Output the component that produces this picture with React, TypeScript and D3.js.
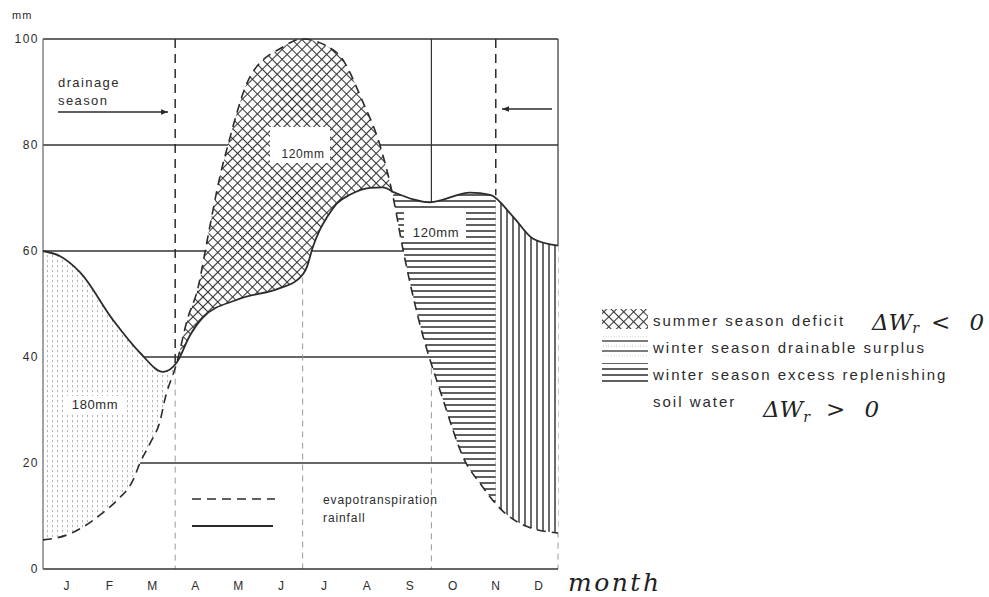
import * as d3 from "d3";

// month initials along the bottom
const months = ["J", "F", "M", "A", "M", "J", "J", "A", "S", "O", "N", "D"];
const yTicks = [0, 20, 40, 60, 80, 100];

// [month position (0 = start of Jan, 12 = end of Dec), mm]
const evapotranspiration: [number, number][] = [
  [0, 5.5], [0.55, 6.4], [0.93, 7.9], [1.33, 10.2], [1.73, 13], [2.1, 16.8],
  [2.26, 20], [2.5, 23.8], [2.73, 28], [2.84, 32], [3.12, 39], [3.36, 47],
  [3.61, 53], [3.84, 62.6], [4.12, 74], [4.31, 80], [4.82, 92.8], [5.59, 98.5],
  [6.03, 100], [6.85, 97.4], [7.46, 88], [7.85, 80], [8.15, 70.5], [8.39, 60.2],
  [8.74, 47.5], [9.32, 32], [9.83, 20.4], [10.18, 16.2], [10.69, 11.1],
  [11.28, 8], [12, 6.8],
];

const rainfall: [number, number][] = [
  [0, 60], [0.4, 59], [0.86, 56], [1.63, 47], [2.26, 40.8], [2.8, 37.2],
  [3.12, 39], [3.42, 44], [3.73, 47.5], [4.52, 50.8], [5.52, 53], [5.92, 54.5],
  [6.15, 57], [6.29, 60.8], [6.45, 64], [6.62, 66.4], [6.85, 69], [7.15, 70.6],
  [7.62, 71.9], [7.92, 72], [8.2, 71], [9.02, 69.2], [9.95, 71], [10.42, 70.6],
  [10.95, 66.5], [11.42, 62.3], [12, 61],
];

// shaded seasons between the two curves
const seasons = [
  { from: 0, to: 3.11, fill: "dots" },
  { from: 3.11, to: 8.17, fill: "cross" },
  { from: 8.17, to: 10.55, fill: "hlines" },
  { from: 10.55, to: 12, fill: "vlines" },
];

const legendItems = [
  { fill: "cross", lines: ["summer season deficit"] },
  { fill: "sparse", lines: ["winter season drainable surplus"] },
  { fill: "hlines", lines: ["winter season excess replenishing", "soil water"] },
];

const W = 989;
const H = 597;
const FONT = "'Liberation Sans', Arial, sans-serif";
const HAND = "'DejaVu Serif', 'Liberation Serif', serif";
const INK = "#2b2b2b";

export default function App() {
  const x = d3.scaleLinear().domain([0, 12]).range([43, 558]);
  const y = d3.scaleLinear().domain([0, 100]).range([569, 39]);

  const line = d3.line<[number, number]>()
    .x(d => x(d[0]))
    .y(d => y(d[1]))
    .curve(d3.curveMonotoneX);

  const etPath = line(evapotranspiration) || "";
  const rainPath = line(rainfall) || "";
  const rainBack = (line(rainfall.slice().reverse()) || "").replace(/^M/, "L");
  const between = etPath + rainBack + "Z";

  return (
    <svg width={W} height={H} style={{ position: "absolute", left: 0, top: 0, background: "#fff" }}>
      <defs>
        <pattern id="cross" width={7} height={7} patternUnits="userSpaceOnUse" patternTransform="rotate(45)">
          <rect width={7} height={7} fill="#fff" />
          <path d="M0,3.5H7M3.5,0V7" stroke="#333" strokeWidth={1.1} />
        </pattern>
        <pattern id="dots" width={5} height={5} patternUnits="userSpaceOnUse">
          <rect width={5} height={5} fill="#fff" />
          <path d="M2.5,0V2.2" stroke="#aaa" strokeWidth={0.9} />
        </pattern>
        <pattern id="hlines" width={8} height={6} patternUnits="userSpaceOnUse">
          <rect width={8} height={6} fill="#fff" />
          <path d="M0,3H8" stroke="#2a2a2a" strokeWidth={1.5} />
        </pattern>
        <pattern id="vlines" width={6} height={8} patternUnits="userSpaceOnUse">
          <rect width={6} height={8} fill="#fff" />
          <path d="M3,0V8" stroke="#2a2a2a" strokeWidth={1.4} />
        </pattern>
        <pattern id="sparse" width={8} height={10} patternUnits="userSpaceOnUse">
          <rect width={8} height={10} fill="#fff" />
          <path d="M0,1H8" stroke="#333" strokeWidth={1.3} />
          <path d="M0,6H8" stroke="#aaa" strokeWidth={0.8} strokeDasharray="1,2" />
        </pattern>
        {seasons.map((s, i) => (
          <clipPath id={`season-${i}`} key={i}>
            <rect x={x(s.from)} y={0} width={x(s.to) - x(s.from)} height={H} />
          </clipPath>
        ))}
        <marker id="arrow" viewBox="0 0 10 10" refX={10} refY={5} markerWidth={9} markerHeight={7} orient="auto" markerUnits="userSpaceOnUse">
          <path d="M0,1L10,5L0,9Z" fill={INK} />
        </marker>
      </defs>

      {/* grid */}
      {yTicks.filter(t => t > 0 && t < 100).map(t => (
        <line key={t} x1={x(0)} x2={x(12)} y1={y(t)} y2={y(t)} stroke="#333" strokeWidth={1.3} />
      ))}

      {/* faint verticals */}
      <g stroke="#999" strokeWidth={1} strokeDasharray="6,5">
        <line x1={x(3.08)} x2={x(3.08)} y1={y(38)} y2={y(0)} />
        <line x1={x(6.05)} x2={x(6.05)} y1={y(55)} y2={y(0)} />
        <line x1={x(9.05)} x2={x(9.05)} y1={y(69)} y2={y(0)} />
        <line x1={x(12)} x2={x(12)} y1={y(61)} y2={y(0)} />
      </g>

      {/* season fills */}
      {seasons.map((s, i) => (
        <path key={i} d={between} fill={`url(#${s.fill})`} clipPath={`url(#season-${i})`} />
      ))}

      {/* frame */}
      <line x1={x(0)} x2={x(12)} y1={y(100)} y2={y(100)} stroke="#333" strokeWidth={1.4} />
      <line x1={x(0)} x2={x(12)} y1={y(0)} y2={y(0)} stroke="#333" strokeWidth={1.6} />
      <line x1={x(0)} x2={x(0)} y1={y(100)} y2={y(0)} stroke="#666" strokeWidth={1.2} />
      <line x1={x(12)} x2={x(12)} y1={y(100)} y2={y(61)} stroke="#333" strokeWidth={1.2} />

      {/* season boundaries */}
      <line x1={x(3.08)} x2={x(3.08)} y1={y(100)} y2={y(38)} stroke={INK} strokeWidth={1.5} strokeDasharray="9,6" />
      <line x1={x(10.55)} x2={x(10.55)} y1={y(100)} y2={y(70.5)} stroke={INK} strokeWidth={1.5} strokeDasharray="9,6" />
      <line x1={x(9.05)} x2={x(9.05)} y1={y(100)} y2={y(69.2)} stroke="#333" strokeWidth={1.2} />

      {/* curves */}
      <path d={etPath} fill="none" stroke={INK} strokeWidth={1.6} strokeDasharray="9,6" />
      <path d={rainPath} fill="none" stroke={INK} strokeWidth={1.8} />

      {/* labels inside the areas */}
      <rect x={270} y={127} width={60} height={36} fill="#fff" />
      <text x={303} y={158} textAnchor="middle" fontFamily={FONT} fontSize={12} letterSpacing={0.6} fill={INK}>120mm</text>
      <rect x={404} y={210} width={62} height={32} fill="#fff" />
      <text x={436} y={237} textAnchor="middle" fontFamily={FONT} fontSize={13} letterSpacing={0.6} fill={INK}>120mm</text>
      <rect x={64} y={396} width={62} height={18} fill="#fff" />
      <text x={95} y={409} textAnchor="middle" fontFamily={FONT} fontSize={13} letterSpacing={0.6} fill={INK}>180mm</text>

      {/* drainage season arrows */}
      <text x={58} y={87} fontFamily={FONT} fontSize={13} letterSpacing={1.4} fill={INK}>drainage</text>
      <text x={58} y={105} fontFamily={FONT} fontSize={13} letterSpacing={1.4} fill={INK}>season</text>
      <line x1={58} x2={168} y1={112} y2={112} stroke={INK} strokeWidth={1.3} markerEnd="url(#arrow)" />
      <line x1={552} x2={502} y1={109} y2={109} stroke={INK} strokeWidth={1.3} markerEnd="url(#arrow)" />

      {/* line key */}
      <line x1={192} x2={275} y1={499} y2={499} stroke={INK} strokeWidth={1.6} strokeDasharray="9,6" />
      <line x1={192} x2={273} y1={526} y2={526} stroke={INK} strokeWidth={1.8} />
      <text x={323} y={504} fontFamily={FONT} fontSize={12} letterSpacing={0.9} fill={INK}>evapotranspiration</text>
      <text x={323} y={522} fontFamily={FONT} fontSize={12} letterSpacing={0.9} fill={INK}>rainfall</text>

      {/* y axis */}
      <text x={12} y={19} fontFamily={FONT} fontSize={11} letterSpacing={1} fill={INK}>mm</text>
      {yTicks.map(t => (
        <text key={t} x={39} y={y(t) + 4} textAnchor="end" fontFamily={FONT} fontSize={12} letterSpacing={1.5} fill={INK}>{t}</text>
      ))}

      {/* x axis */}
      {months.map((m, i) => (
        <text key={i} x={x(i + 0.5) + 2} y={590} textAnchor="middle" fontFamily={FONT} fontSize={12} fill={INK}>{m}</text>
      ))}
      <text x={568} y={591} fontFamily={HAND} fontStyle="italic" fontSize={25} letterSpacing={2.5} fill="#222">month</text>

      {/* legend */}
      {legendItems.map((item, i) => {
        const top = 309 + i * 27;
        return (
          <g key={i}>
            <rect x={602} y={top} width={46} height={20} fill={`url(#${item.fill})`} />
            {item.lines.map((l, j) => (
              <text key={j} x={653} y={top + 17 + j * 27} fontFamily={FONT} fontSize={15} letterSpacing={2} fill={INK}>{l}</text>
            ))}
          </g>
        );
      })}
      <text x={872} y={330} fontFamily={HAND} fontStyle="italic" fontSize={23} fill="#222">
        ΔW<tspan fontSize={14} dy={3}>r</tspan><tspan dy={-3} dx={12} letterSpacing={6}>&lt; 0</tspan>
      </text>
      <text x={763} y={417} fontFamily={HAND} fontStyle="italic" fontSize={23} fill="#222">
        ΔW<tspan fontSize={14} dy={5}>r</tspan><tspan dy={-5} dx={16} letterSpacing={6}>&gt; 0</tspan>
      </text>
    </svg>
  );
}
